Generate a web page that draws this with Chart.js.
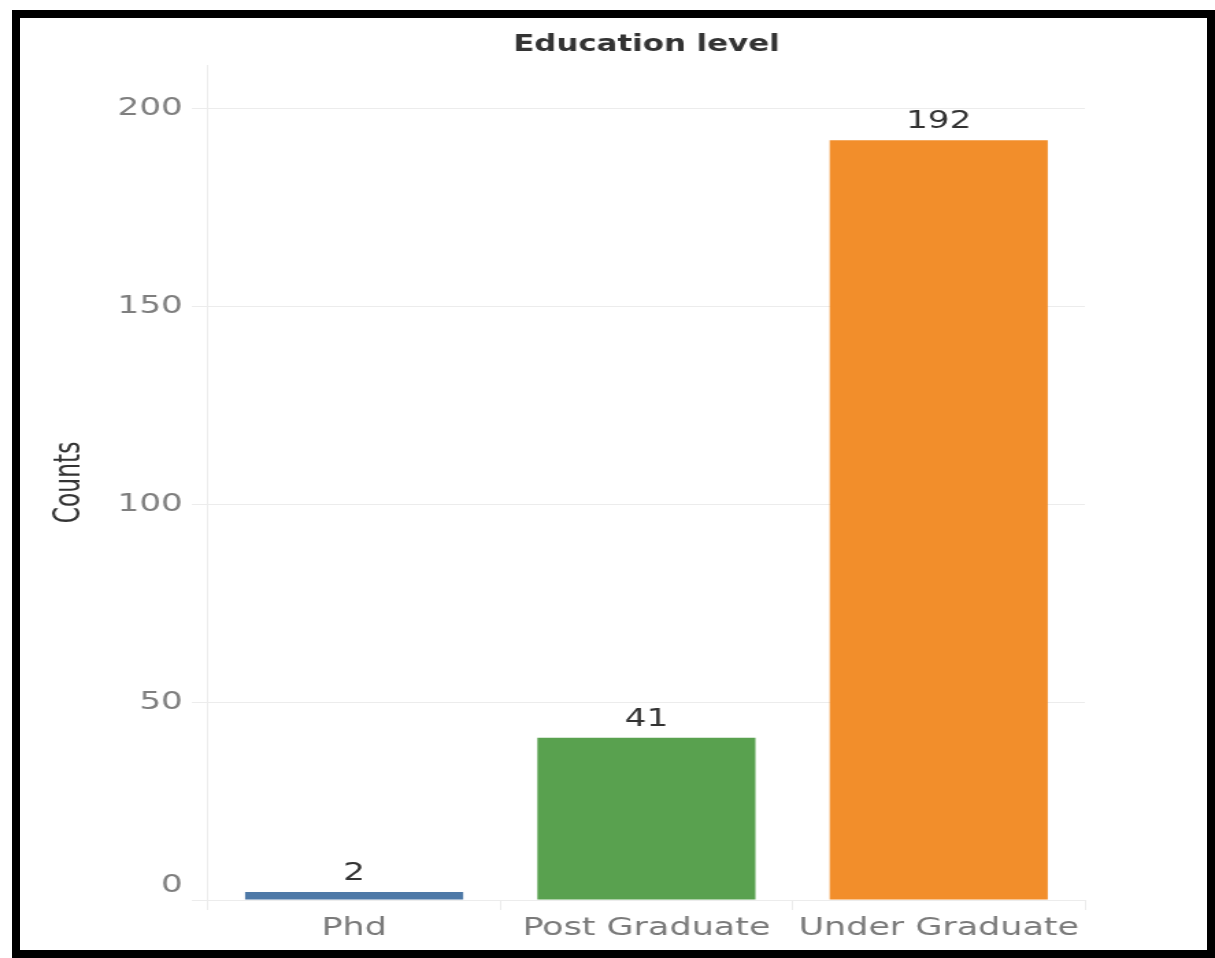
<!DOCTYPE html>
<html>
<head>
<meta charset="utf-8">
<script src="https://cdn.jsdelivr.net/npm/chart.js@4.4.1/dist/chart.umd.min.js"></script>
<style>
  html, body { margin: 0; padding: 0; background: #fff; width: 1215px; height: 958px; overflow: hidden; }
  #c { position: absolute; left: 0; top: 0; width: 1215px; height: 958px; }
  #frame { position: absolute; left: 12px; top: 10px; width: 1203px; height: 948px; box-sizing: border-box; border: 8px solid #000; pointer-events: none; }
</style>
</head>
<body>
<canvas id="c" width="887" height="958" style="width:1215px;height:958px"></canvas>
<div id="frame"></div>
<script>
const categories = ['Phd', 'Post Graduate', 'Under Graduate'];
const counts = [2, 41, 192];
const yTicks = [0, 50, 100, 150, 200];
const yMax = 211;
const barColors = ['#4e79a7', '#59a14f', '#f28e2b'];

const valueLabels = {
  id: 'valueLabels',
  afterDatasetsDraw(chart) {
    const ctx = chart.ctx;
    const meta = chart.getDatasetMeta(0);
    ctx.save();
    ctx.font = '25px "DejaVu Sans"';
    ctx.fillStyle = '#333333';
    ctx.textAlign = 'center';
    ctx.textBaseline = 'alphabetic';
    meta.data.forEach((bar, i) => {
      ctx.fillText(String(counts[i]), bar.x, bar.y - 12);
    });
    ctx.restore();
  }
};

// center the title over the plot area rather than the whole canvas
const titleOverPlot = {
  id: 'titleOverPlot',
  afterLayout(chart) {
    const tb = chart.titleBlock;
    if (tb) {
      tb.left = chart.chartArea.left;
      tb.right = chart.chartArea.right;
      tb.width = tb.right - tb.left;
    }
  }
};

new Chart(document.getElementById('c'), {
  type: 'bar',
  data: {
    labels: categories,
    datasets: [{
      data: counts,
      backgroundColor: barColors,
      borderWidth: 0,
      categoryPercentage: 1,
      barPercentage: 0.746
    }]
  },
  options: {
    responsive: false,
    animation: false,
    devicePixelRatio: 1,
    layout: { padding: { left: 0, right: 95, top: 0, bottom: 0 } },
    plugins: {
      legend: { display: false },
      tooltip: { enabled: false },
      title: {
        display: true,
        text: 'Education level',
        color: '#333333',
        font: { family: '"DejaVu Sans"', size: 22.5, weight: 'bold', lineHeight: 1.2 },
        padding: { top: 31.5, bottom: 6.5 }
      }
    },
    scales: {
      x: {
        offset: true,
        grid: { display: true, drawOnChartArea: false, drawTicks: true, tickLength: 10, color: '#ececec', offset: true },
        border: { display: true, color: '#ececec' },
        ticks: { color: '#7a7a7a', padding: 3, maxRotation: 0, autoSkip: false,
                 font: { family: '"DejaVu Sans"', size: 25.5, lineHeight: 1.2 } },
        afterFit(scale) { scale.height = 58; }
      },
      y: {
        min: 0,
        max: yMax,
        afterBuildTicks(scale) { scale.ticks = yTicks.map(v => ({ value: v })); },
        grid: { color: '#ececec', tickLength: 11.7, drawTicks: true },
        border: { display: true, color: '#ececec' },
        ticks: {
          color: '#7f7f7f',
          padding: 6.6,
          font: { family: '"DejaVu Sans"', size: 25, lineHeight: 1.2 },
          callback: (v) => v === 0 ? ['0', ''] : String(v)
        },
        title: {
          display: true,
          text: 'Counts',
          color: '#333333',
          font: { family: '"Liberation Sans Narrow", "DejaVu Sans Condensed", "Liberation Sans"', size: 26, lineHeight: 1.2 },
          padding: { top: 36, bottom: 0 }
        },
        afterFit(scale) { scale.width = 151.8; }
      }
    }
  },
  plugins: [valueLabels, titleOverPlot]
});
</script>
</body>
</html>
